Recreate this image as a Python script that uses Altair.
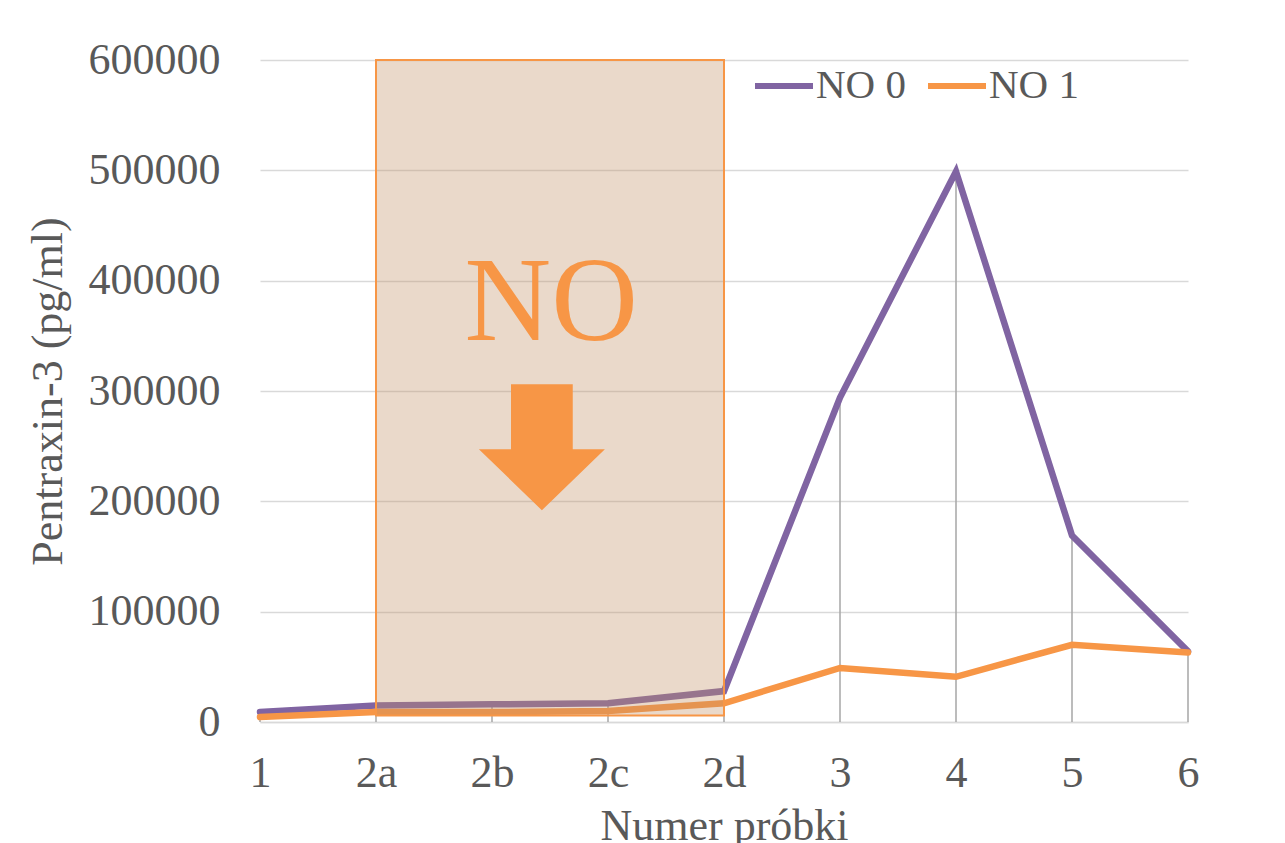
import altair as alt
import pandas as pd

categories = ["1", "2a", "2b", "2c", "2d", "3", "4", "5", "6"]
no0 = [9000, 15000, 16000, 17000, 28000, 294000, 499000, 169000, 64000]
no1 = [4500, 9000, 9000, 10000, 17000, 49000, 41000, 70000, 63000]
series_names = ["NO 0", "NO 1"]
series_colors = ["#8064a2", "#f79646"]
y_ticks = [0, 100000, 200000, 300000, 400000, 500000, 600000]

FONT = "Liberation Serif"
GRAY = "#595959"

rows = []
for i, (c, a, b) in enumerate(zip(categories, no0, no1)):
    rows.append({"idx": i, "cat": c, "series": "NO 0", "value": a})
    rows.append({"idx": i, "cat": c, "series": "NO 1", "value": b})
df = pd.DataFrame(rows)
drop = pd.DataFrame({"idx": list(range(len(categories))),
                     "top": [max(a, b) for a, b in zip(no0, no1)]})

label_expr = "[" + ",".join("'" + c + "'" for c in categories) + "][datum.value]"
xs = alt.Scale(domain=[0, len(categories) - 1], nice=False, zero=False)
ys = alt.Scale(domain=[0, 600000], nice=False)

x_axis = alt.Axis(
    title="Numer próbki", values=list(range(len(categories))), labelExpr=label_expr,
    labelAngle=0, labelFontSize=44, labelFont=FONT, labelColor=GRAY,
    labelPadding=29, ticks=False, domainColor="#d9d9d9", domainWidth=1.5, grid=False,
    titleFontSize=44, titleFont=FONT, titleColor=GRAY, titleFontWeight="normal",
    titleBaseline="alphabetic", titleY=117, labelFlush=False, labelOverlap=False,
)
y_axis = alt.Axis(
    title="Pentraxin-3 (pg/ml)", values=y_ticks, format="d", labelFontSize=44, labelFont=FONT,
    labelColor=GRAY, labelPadding=40, ticks=False, domain=False, grid=True,
    gridColor="#d9d9d9", gridWidth=1.5, titleFontSize=44, titleFont=FONT, titleColor=GRAY,
    titleFontWeight="normal", titleX=-190, titleBaseline="bottom", titleAngle=270,
    labelFlush=False,
)

drops = alt.Chart(drop).mark_rule(color="#a6a6a6", strokeWidth=1.5).encode(
    x=alt.X("idx:Q", scale=xs, axis=x_axis),
    y=alt.Y("top:Q", scale=ys, axis=y_axis),
    y2=alt.datum(0),
)

lines = alt.Chart(df).mark_line(strokeWidth=6.5, strokeCap="round").encode(
    x=alt.X("idx:Q", scale=xs, axis=x_axis),
    y=alt.Y("value:Q", scale=ys, axis=y_axis),
    color=alt.Color(
        "series:N",
        scale=alt.Scale(domain=series_names, range=series_colors),
        legend=alt.Legend(
            title=None, orient="none", legendX=492, legendY=-6, direction="horizontal",
            symbolType="stroke", symbolStrokeWidth=6, symbolSize=3364,
            labelFontSize=41, labelFont=FONT, labelColor=GRAY, labelOffset=0,
            columnPadding=10, labelLimit=300,
        ),
    ),
)

region = pd.DataFrame({"x0": [1], "x1": [4], "y0": [6000], "y1": [600000]})
rect = alt.Chart(region).mark_rect(
    color="#c39268", fillOpacity=0.35, stroke="#f79646", strokeWidth=2, strokeOpacity=1
).encode(
    x=alt.X("x0:Q", scale=xs, axis=x_axis), x2="x1:Q",
    y=alt.Y("y0:Q", scale=ys, axis=y_axis), y2="y1:Q",
)

label_df = pd.DataFrame({"x": [2.51], "y": [346000], "t": ["NO"]})
no_text = alt.Chart(label_df).mark_text(
    font=FONT, fontSize=120, color="#f79646", baseline="alphabetic", align="center"
).encode(
    x=alt.X("x:Q", scale=xs, axis=x_axis), y=alt.Y("y:Q", scale=ys, axis=y_axis), text="t:N"
)

arrow_df = pd.DataFrame({"x": [2.43], "y": [249000]})
arrow = alt.Chart(arrow_df).mark_point(
    shape="M-0.49,-1 L0.49,-1 L0.49,0.03 L1,0.03 L0,1 L-1,0.03 L-0.49,0.03 Z",
    filled=True, color="#f79646", opacity=1, size=15876, strokeWidth=0,
).encode(
    x=alt.X("x:Q", scale=xs, axis=x_axis), y=alt.Y("y:Q", scale=ys, axis=y_axis)
)

chart = alt.layer(drops, lines, rect, no_text, arrow).properties(
    width=928, height=662,
    autosize=alt.AutoSizeParams(type="none"),
    padding={"left": 260, "top": 60, "right": 97, "bottom": 121},
).configure(font=FONT).configure_view(strokeWidth=0, strokeOpacity=0)

chart.save("out.html", embed_options={"renderer": "svg", "actions": False})
